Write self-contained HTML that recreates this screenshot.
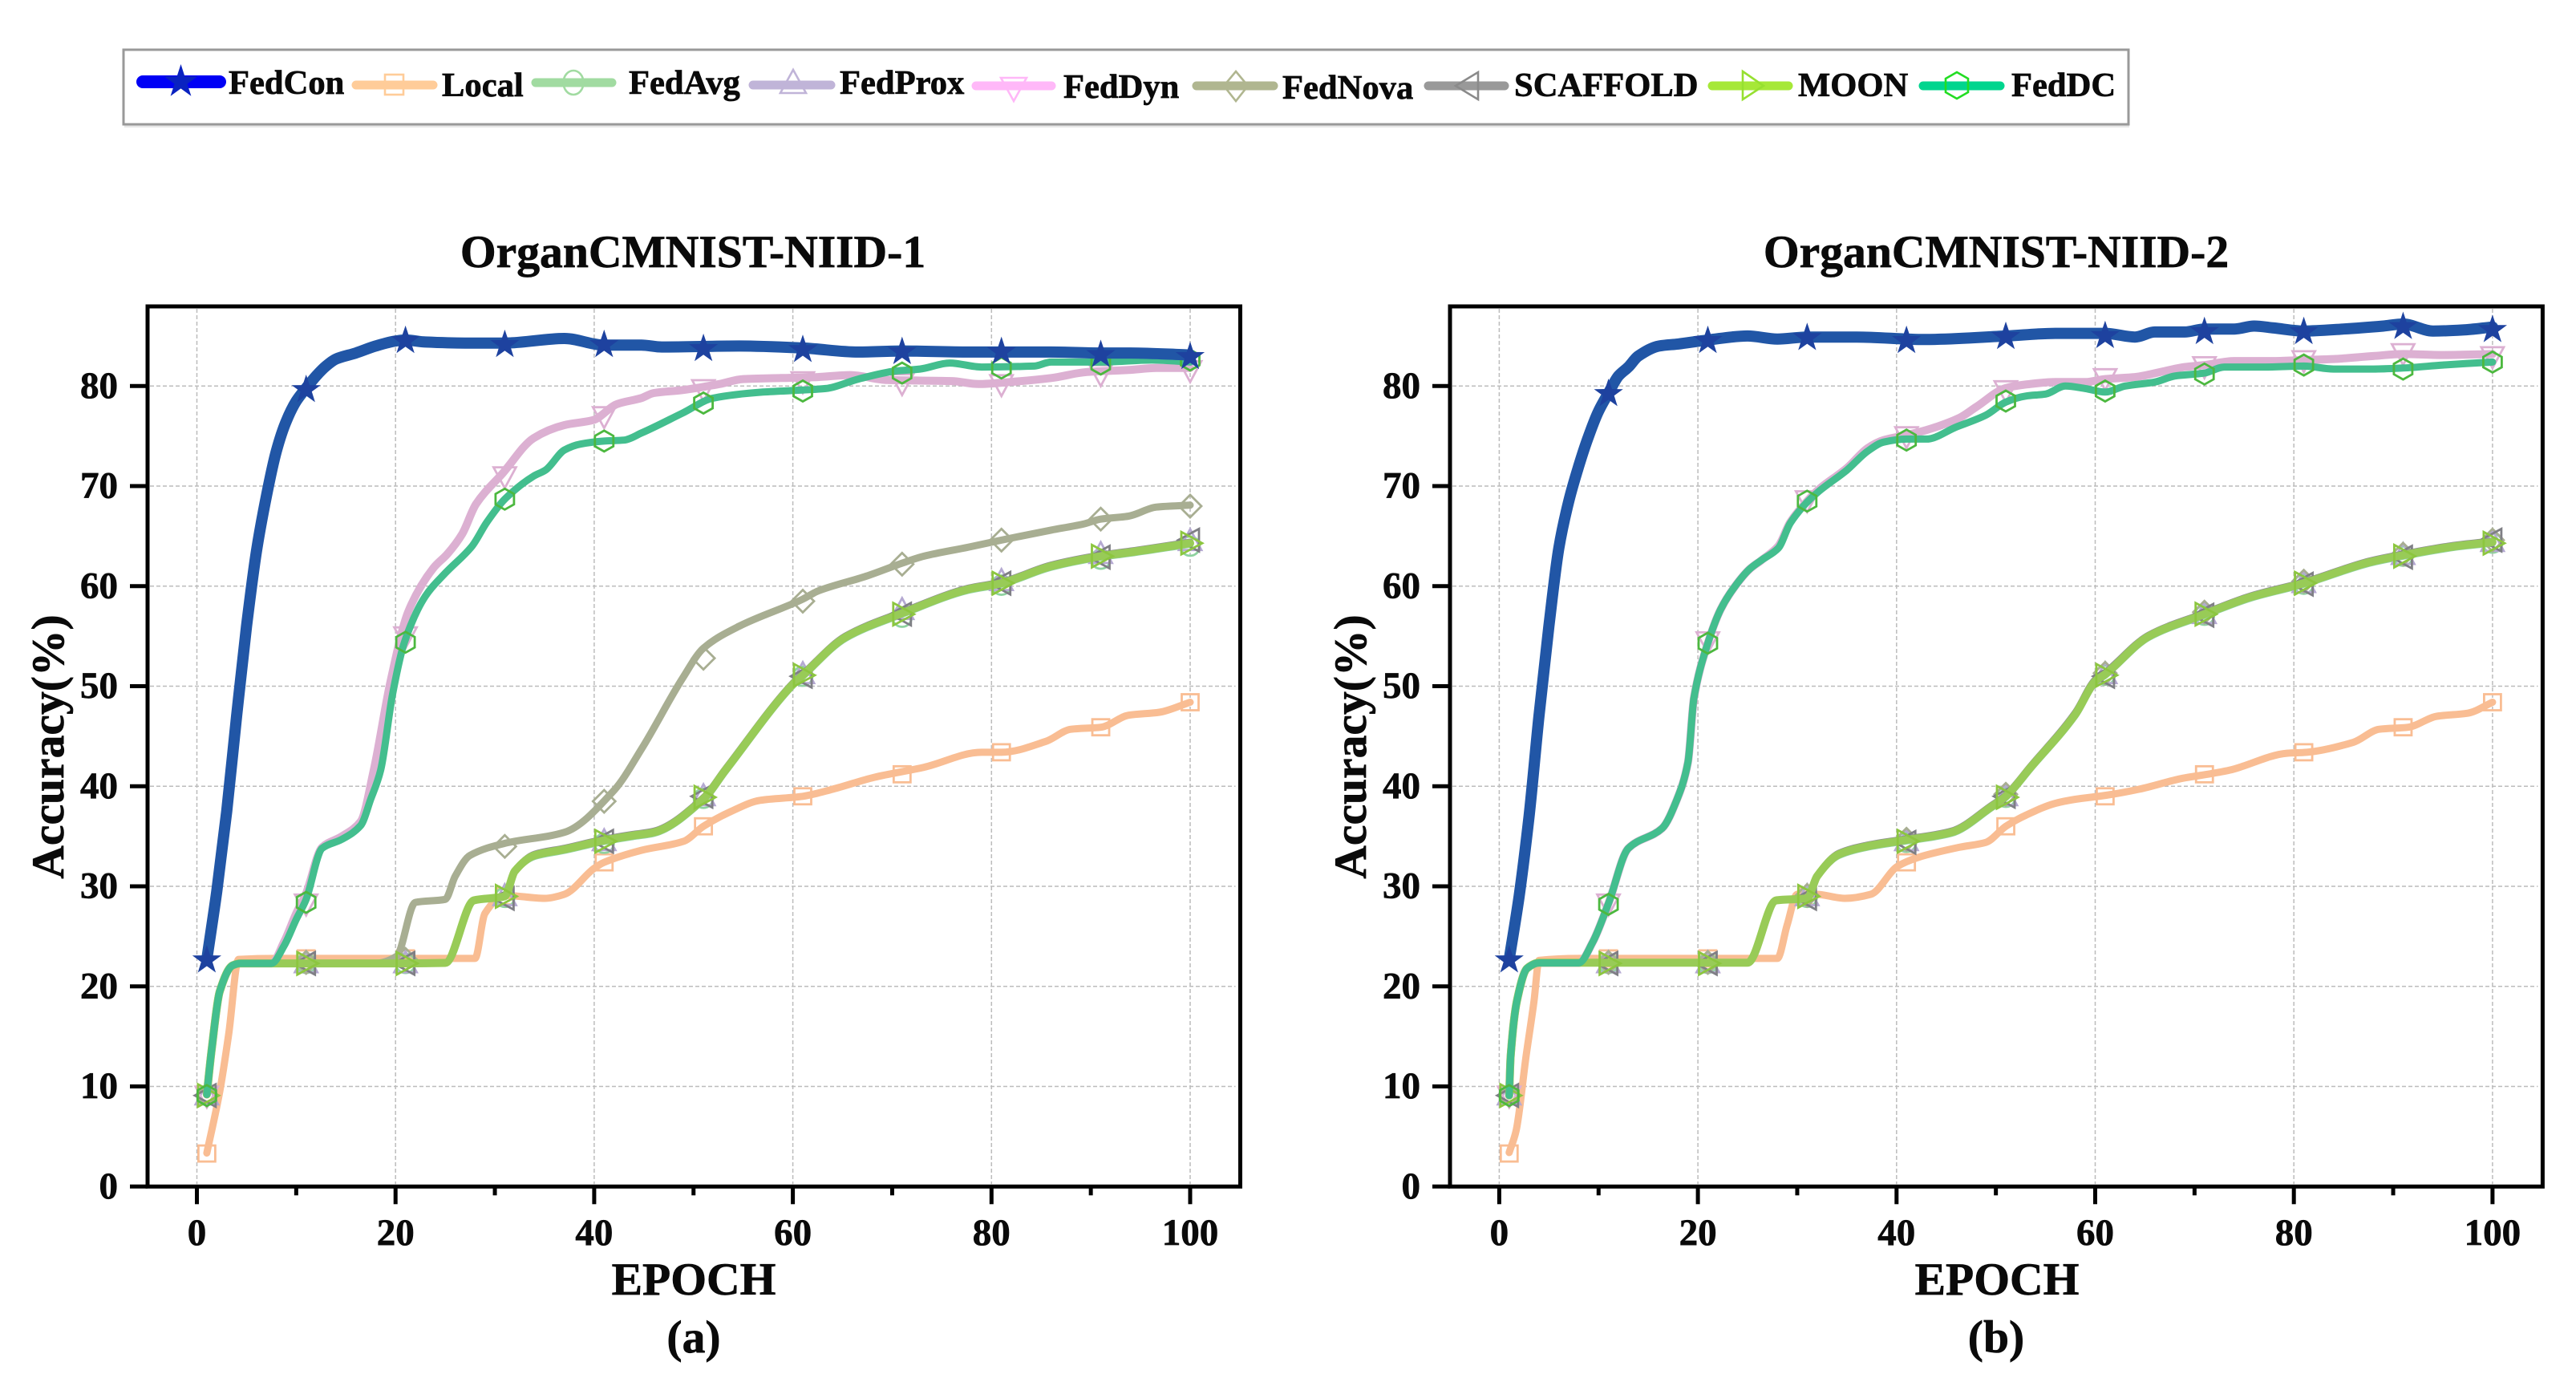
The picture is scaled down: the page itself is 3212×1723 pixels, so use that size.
<!DOCTYPE html>
<html lang="en">
<head>
<meta charset="utf-8">
<title>OrganCMNIST accuracy curves</title>
<style>
html,body{margin:0;padding:0;background:#fff;}
#figure{display:block;width:3212px;height:1723px;}
text{font-family:"Liberation Serif",serif;font-weight:bold;fill:#0a0a0a;stroke:#0a0a0a;stroke-width:0.7px;}
.lg{font-size:42.6px;}
.ttl{font-size:57.6px;}
</style>
</head>
<body>
<svg id="figure" xmlns="http://www.w3.org/2000/svg" width="3212" height="1723" viewBox="0 0 3212 1723">
  <rect x="0" y="0" width="3212" height="1723" fill="#fff"/>
  <g id="panel-a"></g>
  <g id="panel-b"></g>

  <text class="ttl" x="864" y="333" text-anchor="middle">OrganCMNIST-NIID-1</text>
  <text class="ttl" x="2489" y="333" text-anchor="middle">OrganCMNIST-NIID-2</text>
  <text class="ttl" x="865" y="1614" text-anchor="middle">EPOCH</text>
  <text class="ttl" x="2490" y="1614" text-anchor="middle">EPOCH</text>
  <text class="ttl" x="865" y="1686" text-anchor="middle">(a)</text>
  <text class="ttl" x="2489" y="1686" text-anchor="middle">(b)</text>
  <text class="ttl" x="0" y="0" text-anchor="middle" transform="translate(79 931) rotate(-90)">Accuracy(%)</text>
  <text class="ttl" x="0" y="0" text-anchor="middle" transform="translate(1703 931) rotate(-90)">Accuracy(%)</text>

  <g id="legend">
    <rect x="155" y="155" width="2500" height="4" fill="#e8e8e8"/>
    <rect x="154" y="62" width="2500" height="93" fill="#fff" stroke="#999" stroke-width="3"/>

    <g>
      <line x1="178" y1="102" x2="274" y2="102" stroke="#0000f5" stroke-width="16" stroke-linecap="round"/>
      <polygon points="225.5,80 230.4,95.2 246.4,95.2 233.5,104.6 238.4,119.8 225.5,110.4 212.6,119.8 217.5,104.6 204.6,95.2 220.6,95.2" fill="#0a22c0"/>
      <text class="lg" x="285" y="117">FedCon</text>
    </g>
    <g>
      <line x1="444" y1="106" x2="540" y2="106" stroke="#ffcc99" stroke-width="11" stroke-linecap="round"/>
      <rect x="480" y="93" width="23" height="25" fill="none" stroke="#ffcc99" stroke-width="2.6"/>
      <text class="lg" x="551" y="120">Local</text>
    </g>
    <g>
      <line x1="668" y1="103" x2="763" y2="103" stroke="#a1dba1" stroke-width="11" stroke-linecap="round"/>
      <ellipse cx="715" cy="103" rx="12.5" ry="15" fill="none" stroke="#a1dba1" stroke-width="2.6"/>
      <text class="lg" x="784" y="117">FedAvg</text>
    </g>
    <g>
      <line x1="939" y1="106" x2="1036" y2="106" stroke="#c0b4d8" stroke-width="11" stroke-linecap="round"/>
      <polygon points="989,87 1005,116 973,116" fill="none" stroke="#c0b4d8" stroke-width="2.6"/>
      <text class="lg" x="1047" y="117">FedProx</text>
    </g>
    <g>
      <line x1="1217" y1="107" x2="1311" y2="107" stroke="#ffb8f8" stroke-width="11" stroke-linecap="round"/>
      <polygon points="1264,126 1248,97 1280,97" fill="none" stroke="#ffb8f8" stroke-width="2.6"/>
      <text class="lg" x="1326" y="122">FedDyn</text>
    </g>
    <g>
      <line x1="1492" y1="107" x2="1588" y2="107" stroke="#b0b690" stroke-width="11" stroke-linecap="round"/>
      <polygon points="1541,89 1556,107 1541,126 1526,107" fill="none" stroke="#b0b690" stroke-width="2.6"/>
      <text class="lg" x="1599" y="123">FedNova</text>
    </g>
    <g>
      <line x1="1781" y1="107" x2="1876" y2="107" stroke="#999" stroke-width="11" stroke-linecap="round"/>
      <polygon points="1815,107 1843,90 1843,124" fill="none" stroke="#8a8a8a" stroke-width="2.6"/>
      <text class="lg" x="1888" y="120">SCAFFOLD</text>
    </g>
    <g>
      <line x1="2135" y1="107" x2="2230" y2="107" stroke="#a6e838" stroke-width="11" stroke-linecap="round"/>
      <polygon points="2173,89 2199,107 2173,124" fill="none" stroke="#96e030" stroke-width="2.6"/>
      <text class="lg" x="2242" y="120">MOON</text>
    </g>
    <g>
      <line x1="2398" y1="107" x2="2494" y2="107" stroke="#00d58e" stroke-width="11" stroke-linecap="round"/>
      <polygon points="2440,90 2454,98 2454,115 2440,123 2426,115 2426,98" fill="none" stroke="#22dd22" stroke-width="2.6"/>
      <text class="lg" x="2508" y="120">FedDC</text>
    </g>
  </g>
</svg>

<script>
/* ---------- shared axis data ---------- */
const xTickLabels = [0, 20, 40, 60, 80, 100];
const xMinorTicks = [10, 30, 50, 70, 90];
const yTickLabels = [0, 10, 20, 30, 40, 50, 60, 70, 80];
const markerEpochs = [1, 11, 21, 31, 41, 51, 61, 71, 81, 91, 100];

/* ---------- panel (a) data ---------- */
const aFedConEpochs = [1,2,3,4,5,6,7,8,9,10,11,12,13,14,16,18,20,21,23,27,31,37,41,44.75,46.8,54.6,61,66.6,71,77.7,86,91,94,100];
const aFedConAcc = [22.7,29.5,37.5,47,56,63.5,69,73.5,76.5,78.5,79.8,81,82,82.7,83.3,84,84.5,84.6,84.4,84.3,84.3,84.75,84.1,84.1,83.9,84,83.8,83.4,83.5,83.4,83.4,83.3,83.3,83.1];
const aFedConMarks = [22.7,79.7,84.6,84.2,84.2,83.8,83.7,83.5,83.5,83.2,83];

const aLocalEpochs = [1,2.3,3.2,4.2,8,14,20,28,29,31,35,37,40,41,44.75,49,51,53.8,56.7,61,64,68.2,73.2,79,81,85.5,88,91,93.8,96.9,100];
const aLocalAcc = [3.35,9.5,15.2,22.7,22.8,22.8,22.8,22.8,27.3,29.1,28.8,29.2,31.8,32.4,33.6,34.5,36,37.5,38.6,39,39.7,40.9,41.9,43.4,43.4,44.5,45.7,45.9,47.1,47.4,48.4];
const aLocalMarks = [3.3,22.8,22.8,29,32.4,36,39,41.2,43.4,45.9,48.4];

const aClusterEpochs = [1,1.5,2.3,3.6,4.4,8,14,20,25,27.9,31,32,34,37,41,44,46,51,53.2,60,61,65.3,71,77.7,81,86,91,94,100];
const aFedAvgAcc = [9.2,13.8,19.5,22.1,22.3,22.3,22.3,22.3,22.35,28.6,29,31.5,33,33.6,34.5,35,35.3,38.65,41.5,50.1,51,54.8,57.2,59.6,60.2,61.9,62.9,63.3,64.2];
const aFedAvgMarks = [9.1,22.3,22.3,28.9,34.3,38.8,51,56.9,60.1,62.7,64];
const aFedProxAcc = [9.2,13.8,19.5,22.1,22.3,22.3,22.3,22.3,22.35,28.6,29,31.5,33.15,33.75,34.65,35.15,35.45,38.8,41.65,50.25,51.15,54.95,57.35,59.75,60.35,62.05,63.05,63.45,64.35];
const aFedProxMarks = [9.1,22.3,22.3,29,34.5,39,51.2,57.6,60.5,63.2,64.5];
const aScaffoldAcc = [9.2,13.8,19.5,22.1,22.3,22.3,22.3,22.3,22.35,28.6,29,31.5,33.2,33.8,34.7,35.2,35.5,38.85,41.7,50.3,51.2,55,57.4,59.8,60.4,62.1,63.1,63.5,64.4];
const aScaffoldMarks = [9.1,22.3,22.3,28.8,34.5,39,51,57.2,60.3,62.9,64.6];
const aMoonAcc = [9.2,13.8,19.5,22.1,22.3,22.3,22.3,22.3,22.35,28.6,29,31.5,33.1,33.7,34.6,35.1,35.4,38.75,41.6,50.2,51.1,54.9,57.3,59.7,60.3,62,63,63.4,64.3];
const aMoonMarks = [9.1,22.3,22.3,29,34.5,38.9,51.1,57.2,60.3,63,64.3];

const aFedNovaEpochs = [1,1.5,2.3,3.6,4.4,8,14,18,20.1,22,25,26,27.5,31,37,42,44.75,48.9,51,54.6,61,62.5,67.4,71,73.2,77.7,81,86,89.2,91,93.8,96.6,100];
const aFedNovaAcc = [9.2,13.8,19.5,22.1,22.3,22.3,22.3,22.3,23,28.4,28.7,31,33.1,34.3,35.4,39.6,43.7,50.8,53.8,56,58.7,59.5,61,62.3,63,63.9,64.6,65.6,66.2,66.7,67,67.9,68.1];
const aFedNovaMarks = [9.1,22.4,22.7,34,38.5,52.8,58.5,62.2,64.6,66.7,68];

const aFedDynEpochs = [1,1.5,2.3,3.6,4.4,7.5,8.8,10,11,12.6,14.6,16.5,17.8,19.5,21.3,23.8,25.2,26.7,28.1,30.8,33.9,37,39.9,42.3,44.75,46,48.9,52.6,55,58.8,62.5,65.75,69.5,76,78.7,81.8,86,89.6,93.8,96.6,100];
const aFedDynAcc = [9.2,13.8,19.5,22.1,22.3,22.3,24.5,27.3,29.3,33.9,35,36.5,41.6,50.5,57.5,61.8,63.2,65.2,68.2,71.3,74.8,76.1,76.6,78.2,78.8,79.3,79.6,80.2,80.7,80.8,80.9,81.1,80.6,80.5,80.2,80.4,80.8,81.4,81.6,81.8,81.8];
const aFedDynMarks = [9.1,28.3,55,71,77,79.7,80.5,80.3,80.2,81.2,81.6];

const aFedDcEpochs = [1,1.5,2.3,3.6,4.4,7.5,8.8,10,11,12.6,14.6,16.5,17.5,18.5,19.7,20.9,23,25,27.7,29.2,31,33.9,35.1,37,38.6,41,43,44.75,48.9,52,57,61,63.3,66.6,70.3,72.8,75.8,79,84.3,86,91,96.2,100];
const aFedDcAcc = [9.2,13.8,19.5,22.1,22.3,22.3,24.1,26.7,28.7,33.8,34.7,36.1,38.7,41.6,49.2,54.4,59,61.3,64,66.4,68.7,71,71.6,73.6,74.2,74.5,74.6,75.3,77.3,78.8,79.4,79.6,79.75,80.7,81.5,81.7,82.3,81.9,82,82.4,82.4,82.6,82.4];
const aFedDcMarks = [9.1,28.4,54.4,68.7,74.5,78.3,79.5,81.3,81.8,82.2,82.6];

/* ---------- panel (b) data ---------- */
const bFedConEpochs = [1,2,3,4,5,6,7,8,9,10,11,12,13,14,16.1,18,21,25,28,31,36,42.8,51,56,61,64,66,69,71,74,76,78,81,85,89,91,94,97,100];
const bFedConAcc = [22.7,29,37,47,56,63.8,68.5,72,75,77.5,79.3,81,81.9,83,84,84.2,84.6,85,84.7,84.9,84.9,84.65,85,85.27,85.27,84.9,85.4,85.4,85.7,85.7,86,85.8,85.5,85.7,86,86.2,85.5,85.6,85.9];
const bFedConMarks = [22.7,79.3,84.6,84.9,84.6,85,85.1,85.5,85.5,86,85.7];

const bLocalEpochs = [1,1.7,2.7,3.5,4,8,14,20,28,29,30,31.9,34.8,37.4,40.1,42.2,46.3,49,51,53,56,58,61.1,64.4,68.8,71.3,73.5,79.3,81.3,86,88.6,91.5,94.4,97.5,100];
const bLocalAcc = [3.4,5.6,13,18.5,22.6,22.8,22.8,22.8,22.8,26.2,29.2,29.2,28.8,29.2,32,32.9,33.9,34.4,36,37.1,38.3,38.7,39.1,39.7,40.8,41.2,41.6,43.3,43.4,44.4,45.7,45.9,47,47.3,48.4];
const bLocalMarks = [3.3,22.8,22.8,29,32.4,36,39,41.2,43.4,45.9,48.4];

const bClusterEpochs = [1,1.15,1.77,2.8,4,8,14,20,25,27.9,31,32,34.2,37,40,45.5,49.6,51,53.5,58,60,61,65.4,71,75.6,81,87.6,91,96.3,100];
const bFedAvgAcc = [9.1,13,18.5,21.8,22.35,22.35,22.35,22.35,22.35,28.6,28.8,31,33.1,33.9,34.4,35.3,37.9,38.9,41.8,47.1,50.4,51.1,54.9,57.1,58.8,60.2,62.3,63,63.9,64.3];
const bFedAvgMarks = [9.1,22.3,22.3,28.9,34.4,38.9,51.1,57.1,60.2,63,64.3];
const bFedProxAcc = [9.1,13,18.5,21.8,22.35,22.35,22.35,22.35,22.35,28.6,28.8,31,33.2,34,34.5,35.4,38,39,41.9,47.2,50.5,51.2,55,57.2,58.9,60.3,62.4,63.1,64,64.4];
const bFedProxMarks = [9.1,22.3,22.3,29,34.5,39,51.2,57.2,60.3,63.1,64.4];
const bFedNovaAcc = [9.1,13,18.5,21.8,22.35,22.35,22.35,22.35,22.35,28.6,28.8,31,33.25,34.05,34.55,35.45,38.05,39.05,41.95,47.25,50.55,51.25,55.05,57.25,58.95,60.35,62.45,63.15,64.05,64.45];
const bFedNovaMarks = [9.1,22.4,22.4,29.1,34.7,39.2,51.3,57.4,60.5,63.2,64.6];
const bScaffoldAcc = [9.1,13,18.5,21.8,22.35,22.35,22.35,22.35,22.35,28.6,28.8,31,33.3,34.1,34.6,35.5,38.1,39.1,42,47.35,50.65,51.35,55.1,57.3,59,60.4,62.5,63.2,64.1,64.5];
const bScaffoldMarks = [9.1,22.3,22.3,28.8,34.4,39,51,57.1,60.2,62.9,64.6];
const bMoonAcc = [9.1,13,18.5,21.8,22.37,22.37,22.37,22.37,22.37,28.6,28.8,31,33.2,34,34.5,35.4,38,39,41.9,47.2,50.5,51.2,55,57.2,58.9,60.3,62.4,63.1,64,64.4];
const bMoonMarks = [9.1,22.3,22.3,29,34.5,38.9,51.1,57.2,60.3,63,64.3];

const bFedDynEpochs = [1,1.15,1.77,2.8,4,8,9.4,11,13,16.4,17.9,19,19.6,21,22.3,23.6,25.2,26.4,28.1,29.3,31,32.2,35,37.1,38.7,41,43,46.3,48,51,53,56,59,61,64,67,69,71,74,78,81,84,88,91,95,100];
const bFedDynAcc = [9.1,13,18.5,21.8,22.35,22.35,24.4,28.3,33.8,35.8,38.7,42.4,48.8,54.3,57.7,59.8,61.7,62.6,64,66.4,68.5,69.7,71.8,73.8,74.6,75.1,75.6,76.8,77.9,79.8,80.15,80.4,80.4,80.7,80.9,81.5,81.9,82.1,82.5,82.5,82.6,82.7,83,83.2,83.1,83.2];
const bFedDynMarks = [9.1,28.3,54.5,68.6,75,79.6,80.8,82,82.6,83.3,83];

const bFedDcEpochs = [1,1.15,1.77,2.8,4,8,9.4,11,13,16.4,17.9,19,19.6,21,22.3,23.6,25.2,26.4,28.1,29.3,31,32.2,35,37.1,38.7,41,43,46,49,51,53,55,57,59,61,63,66,68,71,73,77,81,84,88,91,95,100];
const bFedDcAcc = [9.1,13,18.5,21.8,22.35,22.35,24.4,28.3,33.8,35.8,38.7,42.4,48.8,54.3,57.7,59.8,61.7,62.6,63.8,66.3,68.4,69.5,71.6,73.5,74.4,74.7,74.7,75.9,77.1,78.4,79,79.2,80,79.75,79.4,80,80.4,81,81.3,81.9,81.9,82,81.7,81.7,81.8,82.1,82.4];
const bFedDcMarks = [9.1,28.2,54.3,68.5,74.6,78.5,79.5,81.2,82.1,81.7,82.4];

/* ---------- scales ---------- */
const yZeroPx = 1479.3, yUnitPx = 12.475, xUnitPx = 12.385;
const SVGNS = 'http://www.w3.org/2000/svg';

function xScale(panel, epoch) { return panel.xZero + epoch * xUnitPx; }
function yScale(value) { return yZeroPx - value * yUnitPx; }

function mk(tag, attrs, parent) {
  const el = document.createElementNS(SVGNS, tag);
  for (const k in attrs) el.setAttribute(k, attrs[k]);
  parent.appendChild(el);
  return el;
}

function pts(list) { return list.map(p => p[0].toFixed(1) + ',' + p[1].toFixed(1)).join(' '); }

/* monotone cubic path: smooth curve through the points with no overshoot */
function smoothPath(p) {
  const n = p.length, d = [], m = [];
  for (let i = 0; i < n - 1; i++) d.push((p[i + 1][1] - p[i][1]) / (p[i + 1][0] - p[i][0]));
  m.push(d[0]);
  for (let i = 1; i < n - 1; i++) m.push(d[i - 1] * d[i] <= 0 ? 0 : 2 * d[i - 1] * d[i] / (d[i - 1] + d[i]));
  m.push(d[n - 2]);
  let s = 'M' + p[0][0].toFixed(1) + ' ' + p[0][1].toFixed(1);
  for (let i = 0; i < n - 1; i++) {
    const h = (p[i + 1][0] - p[i][0]) / 3;
    s += 'C' + (p[i][0] + h).toFixed(1) + ' ' + (p[i][1] + m[i] * h).toFixed(1) + ' ' +
         (p[i + 1][0] - h).toFixed(1) + ' ' + (p[i + 1][1] - m[i + 1] * h).toFixed(1) + ' ' +
         p[i + 1][0].toFixed(1) + ' ' + p[i + 1][1].toFixed(1);
  }
  return s;
}

function markerShape(g, kind, cx, cy, colour) {
  const sw = 2.8;
  const base = { fill: 'none', stroke: colour, 'stroke-width': sw };
  if (kind === 'star') {
    const list = [];
    for (let i = 0; i < 10; i++) {
      const r = i % 2 === 0 ? 19 : 7.4;
      const a = -Math.PI / 2 + i * Math.PI / 5;
      list.push([cx + r * Math.cos(a), cy + r * Math.sin(a) + 1]);
    }
    return mk('polygon', { points: pts(list), fill: colour }, g);
  }
  if (kind === 'square') return mk('rect', Object.assign({ x: cx - 10.5, y: cy - 10, width: 21, height: 20 }, base), g);
  if (kind === 'circle') return mk('circle', Object.assign({ cx: cx, cy: cy, r: 12 }, base), g);
  if (kind === 'up') return mk('polygon', Object.assign({ points: pts([[cx, cy - 15], [cx + 14, cy + 11], [cx - 14, cy + 11]]) }, base), g);
  if (kind === 'down') return mk('polygon', Object.assign({ points: pts([[cx, cy + 15], [cx + 14, cy - 11], [cx - 14, cy - 11]]) }, base), g);
  if (kind === 'left') return mk('polygon', Object.assign({ points: pts([[cx - 15, cy], [cx + 11, cy - 14], [cx + 11, cy + 14]]) }, base), g);
  if (kind === 'right') return mk('polygon', Object.assign({ points: pts([[cx + 15, cy], [cx - 11, cy - 14], [cx - 11, cy + 14]]) }, base), g);
  if (kind === 'diamond') return mk('polygon', Object.assign({ points: pts([[cx, cy - 14], [cx + 14, cy], [cx, cy + 14], [cx - 14, cy]]) }, base), g);
  return mk('polygon', Object.assign({ points: pts([[cx, cy - 13], [cx + 11.5, cy - 6.5], [cx + 11.5, cy + 6.5], [cx, cy + 13], [cx - 11.5, cy + 6.5], [cx - 11.5, cy - 6.5]]) }, base), g);
}

const seriesStyle = {
  Local:    { line: '#f9bd93', mark: '#f9bd93', width: 9,  kind: 'square' },
  FedAvg:   { line: '#8fd3a0', mark: '#8fd3a0', width: 9,  kind: 'circle' },
  FedProx:  { line: '#b5a9d2', mark: '#b5a9d2', width: 9,  kind: 'up' },
  FedDyn:   { line: '#dcb0d2', mark: '#dcb0d2', width: 10, kind: 'down' },
  FedNova:  { line: '#a8ae92', mark: '#a8ae92', width: 9,  kind: 'diamond' },
  SCAFFOLD: { line: '#8f8f93', mark: '#7f7f85', width: 9,  kind: 'left' },
  MOON:     { line: '#98cb57', mark: '#8cc63f', width: 10, kind: 'right' },
  FedDC:    { line: '#43be8e', mark: '#4cb83f', width: 9,  kind: 'hex' },
  FedCon:   { line: '#2156a6', mark: '#1e429f', width: 14, kind: 'star' }
};

const panels = [
  {
    id: 'panel-a', xZero: 245.5, left: 184, right: 1546.5,
    series: [
      ['Local', aLocalEpochs, aLocalAcc, aLocalMarks],
      ['FedAvg', aClusterEpochs, aFedAvgAcc, aFedAvgMarks],
      ['FedProx', aClusterEpochs, aFedProxAcc, aFedProxMarks],
      ['FedDyn', aFedDynEpochs, aFedDynAcc, aFedDynMarks],
      ['FedNova', aFedNovaEpochs, aFedNovaAcc, aFedNovaMarks],
      ['SCAFFOLD', aClusterEpochs, aScaffoldAcc, aScaffoldMarks],
      ['MOON', aClusterEpochs, aMoonAcc, aMoonMarks],
      ['FedDC', aFedDcEpochs, aFedDcAcc, aFedDcMarks],
      ['FedCon', aFedConEpochs, aFedConAcc, aFedConMarks]
    ]
  },
  {
    id: 'panel-b', xZero: 1869.4, left: 1808, right: 3170.4,
    series: [
      ['Local', bLocalEpochs, bLocalAcc, bLocalMarks],
      ['FedAvg', bClusterEpochs, bFedAvgAcc, bFedAvgMarks],
      ['FedProx', bClusterEpochs, bFedProxAcc, bFedProxMarks],
      ['FedDyn', bFedDynEpochs, bFedDynAcc, bFedDynMarks],
      ['FedNova', bClusterEpochs, bFedNovaAcc, bFedNovaMarks],
      ['SCAFFOLD', bClusterEpochs, bScaffoldAcc, bScaffoldMarks],
      ['MOON', bClusterEpochs, bMoonAcc, bMoonMarks],
      ['FedDC', bFedDcEpochs, bFedDcAcc, bFedDcMarks],
      ['FedCon', bFedConEpochs, bFedConAcc, bFedConMarks]
    ]
  }
];

function drawPanel(panel) {
  const root = document.getElementById(panel.id);
  const top = 382, bottom = yZeroPx;

  /* grid */
  const gridGroup = mk('g', { stroke: '#bcbcbc', 'stroke-width': 1.5, 'stroke-dasharray': '5 3', fill: 'none' }, root);
  
  
  xTickLabels.forEach(t => {
    const x = xScale(panel, t);
    const l = mk('line', { x1: x, x2: x, y1: top + 3, y2: bottom - 3 }, gridGroup);
    
    
  });
  yTickLabels.filter(t => t > 0).forEach(t => {
    const y = yScale(t);
    const l = mk('line', { x1: panel.left + 3, x2: panel.right - 6, y1: y, y2: y }, gridGroup);
    
    
  });

  /* series */
  panel.series.forEach(s => {
    const name = s[0], style = seriesStyle[name];
    const g = mk('g', {}, root);
    
    
    const line = mk('path', {
      d: smoothPath(s[1].map((e, i) => [xScale(panel, e), yScale(s[2][i])])),
      fill: 'none', stroke: style.line, 'stroke-width': style.width,
      'stroke-linejoin': 'round', 'stroke-linecap': 'round'
    }, g);
    
    
    markerEpochs.forEach((e, i) => {
      const m = markerShape(g, style.kind, xScale(panel, e), yScale(s[3][i]), style.mark);
      
      
    });
  });

  /* frame */
  const frame = mk('rect', { x: panel.left, y: top, width: panel.right - panel.left, height: bottom - top, fill: 'none', stroke: '#000', 'stroke-width': 5 }, root);
  
  

  /* y ticks */
  yTickLabels.forEach(t => {
    const y = yScale(t);
    const tick = mk('line', { x1: panel.left - 22, x2: panel.left, y1: y, y2: y, stroke: '#000', 'stroke-width': 5 }, root);
    
    
    const label = mk('text', { x: panel.left - 37, y: y + 14.5, 'text-anchor': 'end', 'font-size': 47 }, root);
    
    
    label.textContent = t;
  });

  /* x ticks */
  xTickLabels.forEach(t => {
    const x = xScale(panel, t);
    const tick = mk('line', { x1: x, x2: x, y1: bottom, y2: bottom + 22, stroke: '#000', 'stroke-width': 5 }, root);
    
    
    const label = mk('text', { x: x, y: 1552, 'text-anchor': 'middle', 'font-size': 47 }, root);
    
    
    label.textContent = t;
  });
  xMinorTicks.forEach(t => {
    const x = xScale(panel, t);
    const tick = mk('line', { x1: x, x2: x, y1: bottom, y2: bottom + 11, stroke: '#000', 'stroke-width': 5 }, root);
    
    
  });
}

panels.forEach(drawPanel);
</script>
</body>
</html>
